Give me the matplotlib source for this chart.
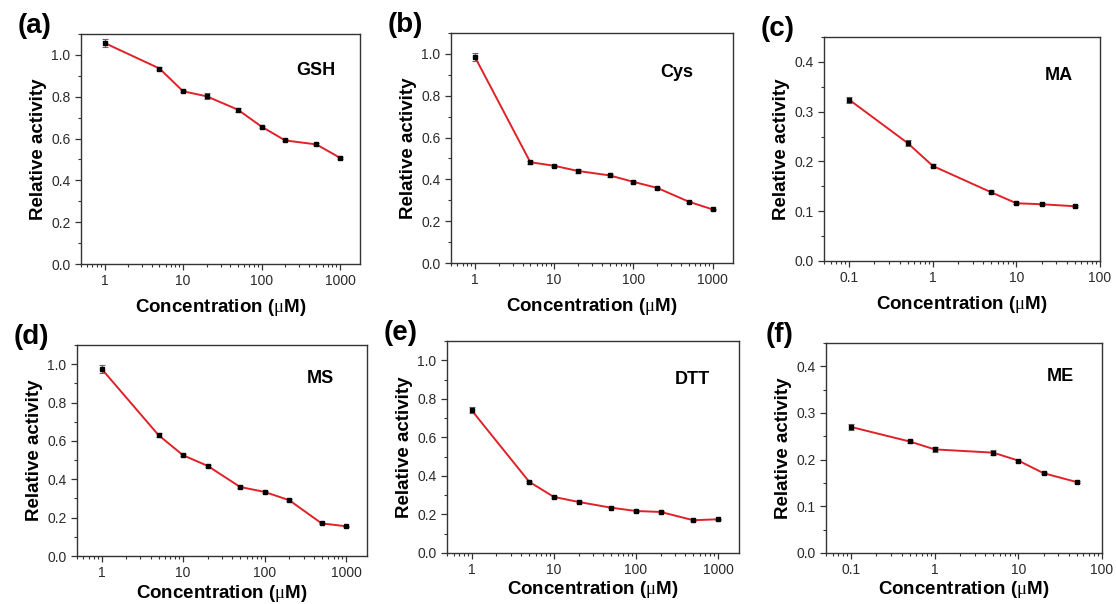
import matplotlib
matplotlib.use("Agg")
import matplotlib.pyplot as plt
from matplotlib.ticker import MultipleLocator, LogLocator, FixedLocator, FixedFormatter, NullFormatter

plt.rcParams['font.family'] = ['Liberation Sans', 'DejaVu Sans']
plt.rcParams['mathtext.fontset'] = 'custom'
plt.rcParams['mathtext.rm'] = 'Liberation Serif'

# ---- data ----
conc_thiol = [1, 5, 10, 20, 50, 100, 200, 500, 1000]
conc_small = [0.1, 0.5, 1, 5, 10, 20, 50]

gsh = [1.057, 0.935, 0.826, 0.802, 0.738, 0.657, 0.591, 0.572, 0.508]
gsh_err = [0.020, 0.007, 0.005, 0.015, 0.010, 0.005, 0.005, 0.005, 0.004]

cys = [0.986, 0.482, 0.465, 0.440, 0.419, 0.388, 0.359, 0.293, 0.256]
cys_err = [0.020, 0.008, 0.005, 0.008, 0.008, 0.005, 0.005, 0.004, 0.004]

ma = [0.324, 0.237, 0.191, 0.138, 0.116, 0.114, 0.110]
ma_err = [0.006, 0.006, 0.003, 0.002, 0.002, 0.002, 0.002]

ms = [0.976, 0.630, 0.525, 0.470, 0.360, 0.334, 0.291, 0.170, 0.155]
ms_err = [0.020, 0.012, 0.005, 0.005, 0.004, 0.004, 0.004, 0.004, 0.004]

dtt = [0.740, 0.370, 0.291, 0.265, 0.235, 0.218, 0.213, 0.170, 0.175]
dtt_err = [0.015, 0.006, 0.005, 0.004, 0.004, 0.004, 0.004, 0.004, 0.004]

me = [0.270, 0.239, 0.222, 0.215, 0.198, 0.171, 0.152]
me_err = [0.006, 0.004, 0.006, 0.006, 0.002, 0.002, 0.002]

panel_letters = ['(a)', '(b)', '(c)', '(d)', '(e)', '(f)']
compound_names = ['GSH', 'Cys', 'MA', 'MS', 'DTT', 'ME']

big_ticks = [1, 10, 100, 1000]
big_labels = ['1', '10', '100', '1000']
small_ticks = [0.1, 1, 10, 100]
small_labels = ['0.1', '1', '10', '100']

W, H = 1116, 604
fig = plt.figure(figsize=(W / 100, H / 100), dpi=100)

# axes boxes in pixels: left, top, right, bottom
boxes = [
    (81, 34, 360, 264),
    (451, 33, 733, 263),
    (824, 37, 1100, 261),
    (77, 345, 367, 556),
    (447, 341, 739, 553),
    (826, 343, 1102, 553),
]

panels = [
    (conc_thiol, gsh, gsh_err, (0.5, 1800), (0, 1.1), 0.2, 0.1, big_ticks, big_labels),
    (conc_thiol, cys, cys_err, (0.5, 1800), (0, 1.1), 0.2, 0.1, big_ticks, big_labels),
    (conc_small, ma, ma_err, (0.05, 100), (0, 0.45), 0.1, 0.05, small_ticks, small_labels),
    (conc_thiol, ms, ms_err, (0.5, 1800), (0, 1.1), 0.2, 0.1, big_ticks, big_labels),
    (conc_thiol, dtt, dtt_err, (0.5, 1800), (0, 1.1), 0.2, 0.1, big_ticks, big_labels),
    (conc_small, me, me_err, (0.05, 100), (0, 0.45), 0.1, 0.05, small_ticks, small_labels),
]

name_pos = [(0.84, 0.84), (0.80, 0.83), (0.85, 0.83), (0.84, 0.84), (0.84, 0.82), (0.85, 0.84)]

spine_col = '#333333'
for i, ((l, t, r, b), (x, y, e, xl, yl, ymaj, ymin, xt, xtl)) in enumerate(zip(boxes, panels)):
    ax = fig.add_axes([l / W, 1 - b / H, (r - l) / W, (b - t) / H])
    ax.errorbar(x, y, yerr=e, color='#e02128', lw=1.4, marker='s', ms=2.4,
                mfc='black', mec='black', ecolor='#666666', elinewidth=0.8,
                capsize=2, capthick=0.8, zorder=3)
    ax.set_xscale('log')
    ax.set_xlim(*xl)
    ax.set_ylim(*yl)
    ax.xaxis.set_major_locator(FixedLocator(xt))
    ax.xaxis.set_major_formatter(FixedFormatter(xtl))
    ax.xaxis.set_minor_locator(LogLocator(base=10, subs=range(2, 10), numticks=20))
    ax.xaxis.set_minor_formatter(NullFormatter())
    ax.yaxis.set_major_locator(MultipleLocator(ymaj))
    ax.yaxis.set_minor_locator(MultipleLocator(ymin))
    ax.yaxis.set_major_formatter(plt.FuncFormatter(lambda v, p: f'{v:.1f}'))
    ax.tick_params(which='both', direction='out', top=False, right=False,
                   colors=spine_col, labelsize=10, labelcolor='#2a2a2a')
    ax.tick_params(which='major', length=4, width=0.9)
    ax.tick_params(which='minor', length=2.5, width=0.8)
    for s in ax.spines.values():
        s.set_color(spine_col)
        s.set_linewidth(1.0)
    ax.set_xlabel(r'Concentration ($\mathrm{\mu}$M)', fontsize=13.5, fontweight='bold',
                  labelpad=6 if i < 3 else 1.5)
    ax.set_ylabel('Relative activity', fontsize=13.5, fontweight='bold', labelpad=3)
    nx, ny = name_pos[i]
    ax.text(nx, ny, compound_names[i], transform=ax.transAxes, ha='center', va='center',
            fontsize=13, fontweight='bold')
    # panel letter
    fig.text((l - 46) / W, 1 - (t - 8) / H, panel_letters[i], ha='center', va='center',
             fontsize=20, fontweight='bold')

fig.savefig('out.png', dpi=100)
